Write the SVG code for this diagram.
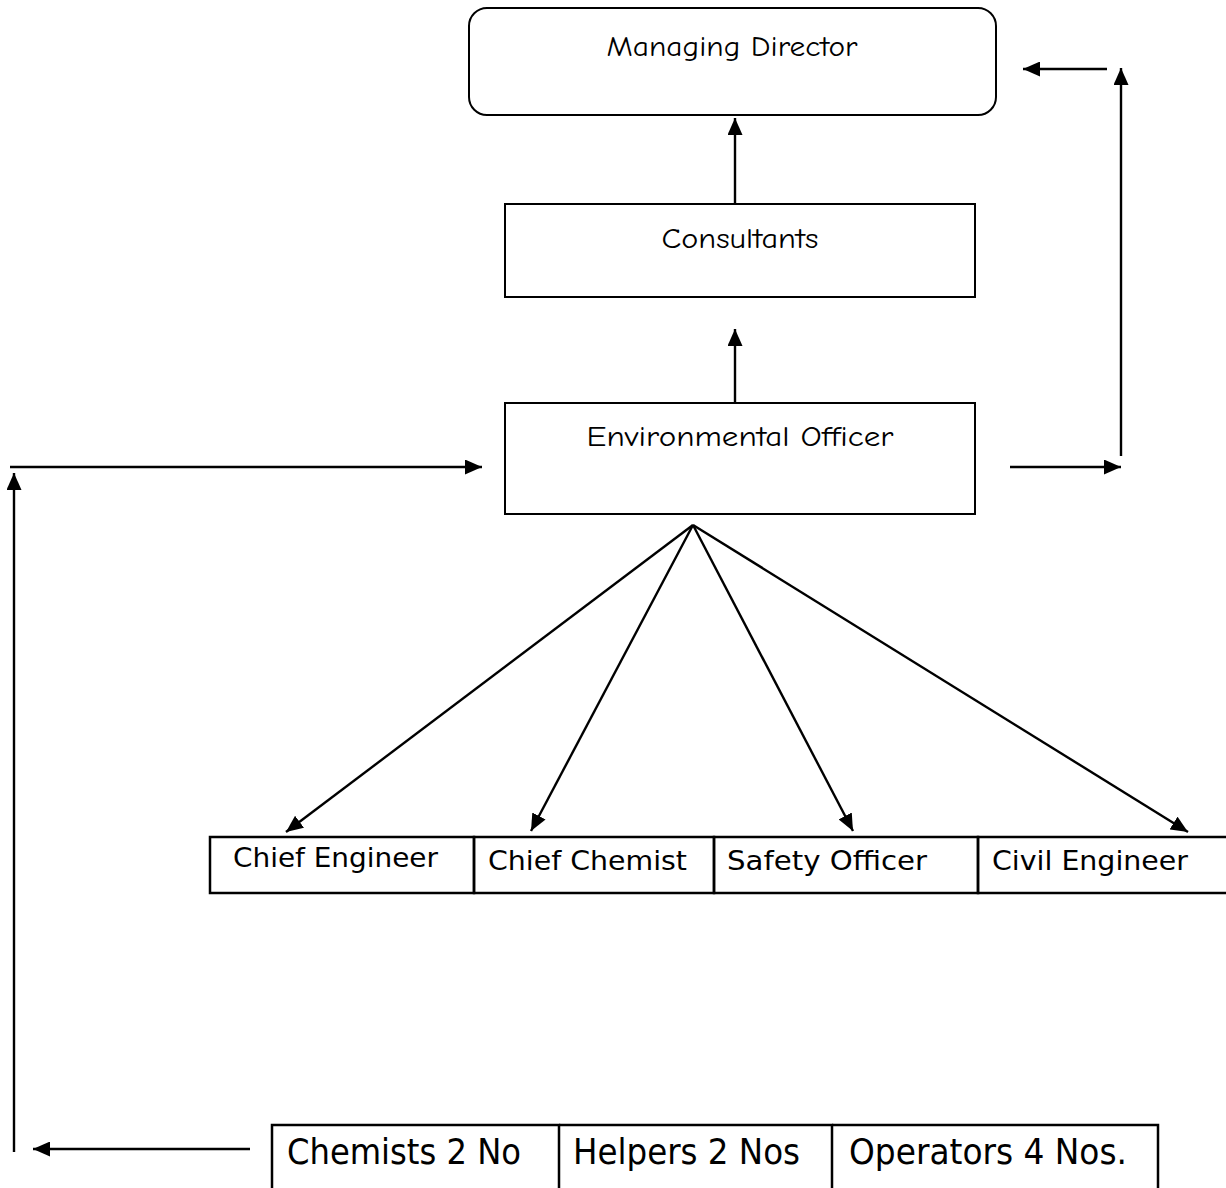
<svg xmlns="http://www.w3.org/2000/svg" width="1226" height="1188" viewBox="0 0 1226 1188">
<style>
.box{fill:#fff;stroke:#000;stroke-width:2}
.cell{fill:none;stroke:#000;stroke-width:2.5}
.t1{font-family:"Comic Neue","DejaVu Sans","Liberation Sans",sans-serif;font-size:29px;fill:#000}
.t2{font-family:"DejaVu Sans Condensed","Liberation Sans Narrow","Liberation Sans",sans-serif;font-size:27px;fill:#000}
.t3{font-family:"DejaVu Sans Condensed","Liberation Sans Narrow","Liberation Sans",sans-serif;font-size:36px;fill:#000}
.c{fill:none;stroke:#000;stroke-width:2.4;marker-end:url(#ah)}
</style>
<defs>
<marker id="ah" viewBox="0 0 17 15" refX="17" refY="7.5" markerWidth="17" markerHeight="15" markerUnits="userSpaceOnUse" orient="auto">
<path d="M0,0 L17,7.5 L0,15 Z" fill="#000"/>
</marker>
</defs>
<rect width="1226" height="1188" fill="#fff"/>
<g id="managing-director">
<rect class="box" x="469" y="8" width="527" height="107" rx="18" ry="18"/>
<text class="t1" x="732" y="56" text-anchor="middle" textLength="251" lengthAdjust="spacingAndGlyphs">Managing Director</text>
</g>
<g id="consultants">
<rect class="box" x="505" y="204" width="470" height="93"/>
<text class="t1" x="740" y="248" text-anchor="middle" textLength="157" lengthAdjust="spacingAndGlyphs">Consultants</text>
</g>
<g id="environmental-officer">
<rect class="box" x="505" y="403" width="470" height="111"/>
<text class="t1" x="740" y="446" text-anchor="middle" textLength="307" lengthAdjust="spacingAndGlyphs">Environmental Officer</text>
</g>
<g id="chief-engineer">
<rect class="cell" x="210" y="837" width="264" height="56"/>
<text class="t2" x="233" y="867" textLength="205" lengthAdjust="spacingAndGlyphs">Chief Engineer</text>
</g>
<g id="chief-chemist">
<rect class="cell" x="474" y="837" width="240" height="56"/>
<text class="t2" x="488" y="870" textLength="199" lengthAdjust="spacingAndGlyphs">Chief Chemist</text>
</g>
<g id="safety-officer">
<rect class="cell" x="714" y="837" width="264" height="56"/>
<text class="t2" x="727" y="870" textLength="200" lengthAdjust="spacingAndGlyphs">Safety Officer</text>
</g>
<g id="civil-engineer">
<rect class="cell" x="978" y="837" width="250" height="56"/>
<text class="t2" x="992" y="870" textLength="196" lengthAdjust="spacingAndGlyphs">Civil Engineer</text>
</g>
<g id="chemists">
<path class="cell" d="M272,1190 V1125 H559 V1190"/>
<text class="t3" x="287" y="1164" textLength="234" lengthAdjust="spacingAndGlyphs">Chemists 2 No</text>
</g>
<g id="helpers">
<path class="cell" d="M559,1125 H832 V1190"/>
<text class="t3" x="573" y="1164" textLength="227" lengthAdjust="spacingAndGlyphs">Helpers 2 Nos</text>
</g>
<g id="operators">
<path class="cell" d="M832,1125 H1158 V1190"/>
<text class="t3" x="849" y="1164" textLength="278" lengthAdjust="spacingAndGlyphs">Operators 4 Nos.</text>
</g>
<g id="connectors">
<line class="c" x1="735" y1="204" x2="735" y2="118"/>
<line class="c" x1="735" y1="403" x2="735" y2="329"/>
<line class="c" x1="10" y1="467" x2="482" y2="467"/>
<line class="c" x1="14" y1="1152" x2="14" y2="473"/>
<line class="c" x1="1010" y1="467" x2="1121" y2="467"/>
<line class="c" x1="1121" y1="456" x2="1121" y2="68"/>
<line class="c" x1="1107" y1="69" x2="1023" y2="69"/>
<line class="c" x1="250" y1="1149" x2="33" y2="1149"/>
<line class="c" x1="693" y1="525" x2="286" y2="832"/>
<line class="c" x1="693" y1="525" x2="531" y2="831"/>
<line class="c" x1="693" y1="525" x2="853" y2="831"/>
<line class="c" x1="693" y1="525" x2="1188" y2="832"/>
</g>
</svg>
